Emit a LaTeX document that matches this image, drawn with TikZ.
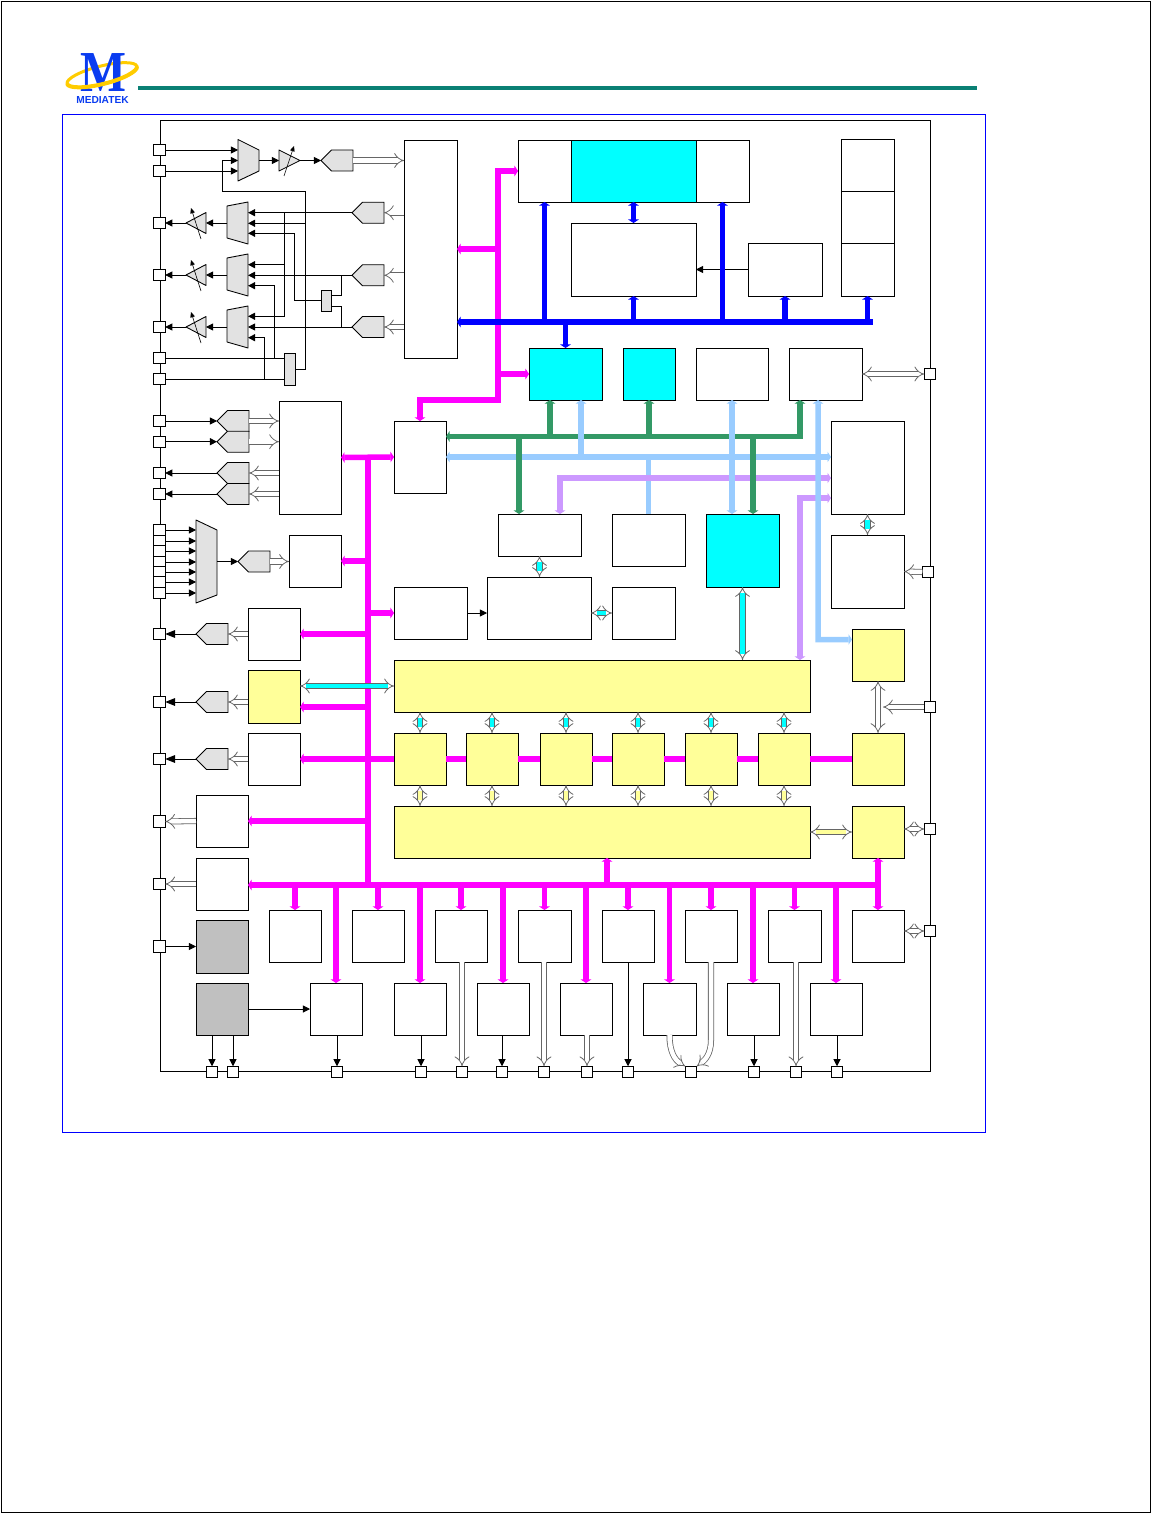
\documentclass[tikz,border=0pt]{standalone}
\usepackage{fontspec}
\setmainfont{Liberation Sans}
\newfontfamily\logoserif{Liberation Serif}
\usepackage{xcolor}
\usetikzlibrary{arrows.meta,shapes.symbols,calc}
\definecolor{busmag}{HTML}{FF00FF}
\definecolor{busblue}{HTML}{0000FF}
\definecolor{busgreen}{HTML}{339966}
\definecolor{buslight}{HTML}{99CCFF}
\definecolor{buspurple}{HTML}{CC99FF}
\definecolor{fillcyan}{HTML}{00FFFF}
\definecolor{fillyellow}{HTML}{FFFF99}
\definecolor{fillgray}{HTML}{C0C0C0}
\definecolor{fillshape}{HTML}{E2E2E2}
\definecolor{ruleteal}{HTML}{0A8074}
\definecolor{logoblue}{HTML}{0A3CF0}
\definecolor{logogold}{HTML}{FFCC00}
\tikzset{
	blk/.style 2 args={draw, line width=.5pt, inner sep=0pt, outer sep=0pt, fill=white, minimum width=#1*0.02cm, minimum height=#2*0.02cm},
	pad/.style={draw, line width=.5pt, fill=white, inner sep=0pt, outer sep=0pt, minimum size=.23cm},
	conv/.style={draw, line width=.5pt, fill=fillshape, inner sep=0pt, outer sep=0pt, shape=signal, signal to=west, signal from=nowhere, signal pointer angle=90, minimum width=.64cm, minimum height=.42cm, anchor=west},
	analog/.style={draw, line width=.5pt, fill=fillshape, line join=round},
	sig/.style={line width=.5pt, >={Triangle[length=4pt,width=4pt]}},
	sigbig/.style={line width=.5pt, >={Triangle[length=5.6pt,width=4.4pt]}},
	tune/.style={line width=.35pt, -{Triangle[length=3pt,width=2.6pt]}},
	hollow/.style={draw=black!60, line width=.45pt, double=#1, double distance=.09cm, >={Implies}},
	hollow/.default=white,
	bus/.style={draw=#1, line width=.11cm, line join=miter, >={Triangle[length=2pt,width=6pt]}}
}
\begin{document}
\begin{tikzpicture}[x=0.02cm, y=-0.02cm]
	\useasboundingbox (0,0) rectangle (1152,1513);
	% Page and frame
	\draw[line width=.5pt] (1,1) rectangle (1150,1512);
	\draw[busblue, line width=.5pt] (62,114.5) rectangle (985,1132);
	\draw[ruleteal, line width=.07cm] (138,88) -- (977,88);
	% Logo
	\draw[logogold, line width=.06cm, rotate around={14:(102,75)}] (102,75) ellipse (36 and 9);
	\node[logoblue, inner sep=0pt, font=\logoserif\bfseries\fontsize{33pt}{33pt}\selectfont] (logoM) at (103,72.5) {\scalebox{.84}[1]{M}};
	\draw[logogold, line width=.08cm, rotate around={14:(102,75)}] (138,75) arc[start angle=0, end angle=180, x radius=36, y radius=9];
	\node[logoblue, inner sep=0pt, font=\bfseries\fontsize{5.8pt}{6pt}\selectfont] (logoT) at (102.5,100) {MEDIATEK};
	% Chip outline
	\draw[line width=.5pt] (160,120) rectangle (930,1071);
	% Left pads
	\node[pad] (pinA) at (159.5,150) {};
	\node[pad] (pinB) at (159.5,171) {};
	\node[pad] (pinC) at (159.5,223) {};
	\node[pad] (pinD) at (159.5,275) {};
	\node[pad] (pinE) at (159.5,327) {};
	\node[pad] (pinF) at (159.5,358) {};
	\node[pad] (pinG) at (159.5,379) {};
	\node[pad] (pinH) at (159.5,421) {};
	\node[pad] (pinI) at (159.5,441.7) {};
	\node[pad] (pinJ) at (159.5,473) {};
	\node[pad] (pinK) at (159.5,494) {};
	\node[pad] (pinM1) at (159.5,530) {};
	\node[pad] (pinM2) at (159.5,541) {};
	\node[pad] (pinM3) at (159.5,551) {};
	\node[pad] (pinM4) at (159.5,562) {};
	\node[pad] (pinM5) at (159.5,572) {};
	\node[pad] (pinM6) at (159.5,582) {};
	\node[pad] (pinM7) at (159.5,593) {};
	\node[pad] (pinN) at (159.5,634) {};
	\node[pad] (pinO) at (159.5,702) {};
	\node[pad] (pinP) at (159.5,759) {};
	\node[pad] (pinQ) at (159.5,821.5) {};
	\node[pad] (pinS) at (159.5,884) {};
	\node[pad] (pinT) at (159.5,946.5) {};
	% Bottom pads
	\node[pad] (padA) at (212,1072) {};
	\node[pad] (padB) at (233,1072) {};
	\node[pad] (padC) at (337,1072) {};
	\node[pad] (padD) at (421,1072) {};
	\node[pad] (padE) at (462,1072) {};
	\node[pad] (padF) at (502,1072) {};
	\node[pad] (padG) at (544,1072) {};
	\node[pad] (padH) at (587,1072) {};
	\node[pad] (padI) at (628,1072) {};
	\node[pad] (padJ) at (691,1072) {};
	\node[pad] (padK) at (754,1072) {};
	\node[pad] (padL) at (796,1072) {};
	\node[pad] (padM) at (837,1072) {};
	% Right pads
	\node[pad] (pinR1) at (930,374) {};
	\node[pad] (pinR2) at (928,572) {};
	\node[pad] (pinR3) at (930,707) {};
	\node[pad] (pinR4) at (930,829) {};
	\node[pad] (pinR5) at (930,931) {};
	% Top blocks
	\node[blk={53}{218}] (adda) at (430.5,249) {};
	\node[blk={53}{62}] (cpuL) at (544.5,171) {};
	\node[blk={125}{62}, fill=fillcyan] (cpuM) at (633.5,171) {};
	\node[blk={53}{62}] (cpuR) at (722.5,171) {};
	\node[blk={125}{73}] (memA) at (633.5,259.5) {};
	\node[blk={74}{53}] (romBox) at (785,269.5) {};
	\node[blk={53}{52}] (stA) at (867.5,165.5) {};
	\node[blk={53}{52}] (stB) at (867.5,217) {};
	\node[blk={53}{53}] (stC) at (867.5,269.5) {};
	\node[blk={73}{52}, fill=fillcyan] (dma) at (565.5,374) {};
	\node[blk={52}{52}, fill=fillcyan] (dmb) at (649,374) {};
	\node[blk={72}{52}] (perA) at (732,374) {};
	\node[blk={73}{52}] (perB) at (825.5,374) {};
	% Middle blocks
	\node[blk={62}{113}] (bigL) at (310,457.5) {};
	\node[blk={52}{72}] (switch) at (420,457) {};
	\node[blk={83}{42}] (extA) at (539.5,535) {};
	\node[blk={73}{52}] (extC) at (648.5,540) {};
	\node[blk={73}{73}, fill=fillcyan] (cyanBig) at (742.5,550.5) {};
	\node[blk={73}{93}] (netBox) at (867.5,467.5) {};
	\node[blk={73}{73}] (extB) at (867.5,571.5) {};
	\node[blk={52}{52}] (blkAdc) at (315,561) {};
	\node[blk={73}{52}] (sideA) at (430.5,613) {};
	\node[blk={104}{62}] (midBox) at (539,608) {};
	\node[blk={63}{52}] (sideB) at (643.5,613) {};
	\node[blk={52}{52}] (outA) at (274,634) {};
	\node[blk={52}{53}, fill=fillyellow] (yelL) at (274,696.5) {};
	\node[blk={52}{52}] (outB) at (274,759) {};
	% Yellow core
	\node[blk={416}{52}, fill=fillyellow] (ramTop) at (602,686) {};
	\node[blk={52}{52}, fill=fillyellow] (ramA) at (420,759) {};
	\node[blk={52}{52}, fill=fillyellow] (ramB) at (492,759) {};
	\node[blk={52}{52}, fill=fillyellow] (ramC) at (566,759) {};
	\node[blk={52}{52}, fill=fillyellow] (ramD) at (638,759) {};
	\node[blk={52}{52}, fill=fillyellow] (ramE) at (711,759) {};
	\node[blk={52}{52}, fill=fillyellow] (ramF) at (784,759) {};
	\node[blk={416}{52}, fill=fillyellow] (ramBot) at (602,832) {};
	\node[blk={52}{52}, fill=fillyellow] (yelRa) at (878,655) {};
	\node[blk={52}{52}, fill=fillyellow] (yelRb) at (878,759) {};
	\node[blk={52}{52}, fill=fillyellow] (yelRc) at (878,832) {};
	% Lower left blocks
	\node[blk={52}{52}] (lowA) at (222,821) {};
	\node[blk={52}{52}] (lowB) at (222,884) {};
	\node[blk={52}{53}, fill=fillgray] (grayA) at (222,946.5) {};
	\node[blk={52}{52}, fill=fillgray] (grayB) at (222,1009) {};
	% Two lower rows
	\node[blk={52}{52}] (rowA1) at (295,936) {};
	\node[blk={52}{52}] (rowA2) at (378,936) {};
	\node[blk={52}{52}] (rowA3) at (461,936) {};
	\node[blk={53}{52}] (rowA4) at (544.5,936) {};
	\node[blk={52}{52}] (rowA5) at (628,936) {};
	\node[blk={52}{52}] (rowA6) at (711,936) {};
	\node[blk={53}{52}] (rowA7) at (794.5,936) {};
	\node[blk={52}{52}] (rowA8) at (878,936) {};
	\node[blk={52}{52}] (rowB1) at (336,1009) {};
	\node[blk={52}{52}] (rowB2) at (420,1009) {};
	\node[blk={52}{52}] (rowB3) at (503,1009) {};
	\node[blk={52}{52}] (rowB4) at (586,1009) {};
	\node[blk={53}{52}] (rowB5) at (669.5,1009) {};
	\node[blk={52}{52}] (rowB6) at (753,1009) {};
	\node[blk={52}{52}] (rowB7) at (836,1009) {};
	% Converters
	\node[conv] (adcA) at (321,160.5) {};
	\node[conv] (dacA) at (352,212.7) {};
	\node[conv] (dacB) at (352,275.3) {};
	\node[conv] (dacC) at (352,327) {};
	\node[conv] (adcD) at (217,421) {};
	\node[conv] (adcE) at (217,441.7) {};
	\node[conv] (dacD) at (217,473) {};
	\node[conv] (dacE) at (217,494) {};
	\node[conv] (adcH) at (238,561.5) {};
	\node[conv] (dacF) at (196,634) {};
	\node[conv] (dacG) at (196,702) {};
	\node[conv] (dacH) at (196,759) {};
	\node[blk={11}{32}, fill=fillshape] (gateL) at (289.5,369) {};
	\node[blk={10}{21}, fill=fillshape] (gateS) at (326.5,300.5) {};
	% Muxes
	\draw[analog] (238,139.5) -- (259,150) -- (259,171) -- (238,181) -- cycle;
	\draw[analog] (227,206) -- (248,202) -- (248,244) -- (227,238) -- cycle;
	\draw[analog] (227,258) -- (248,254) -- (248,296) -- (227,290) -- cycle;
	\draw[analog] (227,310) -- (248,306) -- (248,348) -- (227,342) -- cycle;
	\draw[analog] (196,520) -- (217,530) -- (217,595) -- (196,603) -- cycle;
	% Amplifiers
	\draw[analog] (279,150) -- (300,160.5) -- (279,171) -- cycle;
	\draw[analog] (186,223) -- (206,212.5) -- (206,233.5) -- cycle;
	\draw[analog] (186,275) -- (206,264.5) -- (206,285.5) -- cycle;
	\draw[analog] (186,327) -- (206,316.5) -- (206,337.5) -- cycle;
	\draw[tune] (284,176) -- (294,146);
	\draw[tune] (201,239) -- (191,208);
	\draw[tune] (201,291) -- (191,260);
	\draw[tune] (201,343) -- (191,312);
	% Analog ports
	\coordinate (muxA) at (238,160.5);
	\coordinate (muxAo) at (259,160.5);
	\coordinate (ampA) at (279,160.5);
	\coordinate (ampAo) at (300,160.5);
	\coordinate (muxBa) at (248,212.7);
	\coordinate (muxBb) at (248,223.3);
	\coordinate (muxBc) at (248,233.3);
	\coordinate (muxBo) at (227,223);
	\coordinate (muxCa) at (248,264.7);
	\coordinate (muxCb) at (248,275.3);
	\coordinate (muxCc) at (248,285.7);
	\coordinate (muxCo) at (227,275);
	\coordinate (muxDa) at (248,316.3);
	\coordinate (muxDb) at (248,327);
	\coordinate (muxDc) at (248,337.7);
	\coordinate (muxDo) at (227,327);
	\coordinate (muxE) at (196,561.5);
	\coordinate (muxEo) at (217,561.5);
	\coordinate (ampB) at (206,223);
	\coordinate (ampBo) at (186,223);
	\coordinate (ampC) at (206,275);
	\coordinate (ampCo) at (186,275);
	\coordinate (ampD) at (206,327);
	\coordinate (ampDo) at (186,327);
	\coordinate (ringA) at (305.5,191.5);
	\coordinate (ringB) at (222,191.5);
	\coordinate (tapA) at (284.5,212.7);
	\coordinate (tapB) at (294.6,300.5);
	\coordinate (tapC) at (341.7,275.3);
	\coordinate (tapD) at (341.7,327);
	\coordinate (tapE) at (274.6,358);
	\coordinate (tapF) at (264.3,379);
	\coordinate (gateSa) at (331.5,295);
	\coordinate (gateSb) at (331.5,306);
	% Analog wires
	\draw[sig,->] (pinA.east) -- (pinA.east -| muxA);
	\draw[sig,->] (pinB.east) -- (pinB.east -| muxA);
	\draw[sig,->] (muxAo) -- (ampA);
	\draw[sig,->] (ampAo) -- (adcA.west);
	\draw[sig,->] (gateL.east) -| (ringA) -- (ringB) |- (muxA);
	\draw[sig,->] (ringA |- muxBb) -- (muxBb);
	\draw[sig,->] (dacA.west) -- (muxBa);
	\draw[sig,->] (dacB.west) -- (muxCb);
	\draw[sig,->] (dacC.west) -- (muxDb);
	\draw[sig,->] (tapA) |- (muxDa);
	\draw[sig,->] (tapA |- muxCa) -- (muxCa);
	\draw[sig,->] (gateS.west) -- (tapB) |- (muxBc);
	\draw[sig] (gateSa) -| (tapC);
	\draw[sig] (gateSb) -| (tapD);
	\draw[sig] (pinF.east) -- (gateL.west |- pinF.east);
	\draw[sig] (pinG.east) -- (gateL.west |- pinG.east);
	\draw[sig,->] (tapE) |- (muxCc);
	\draw[sig,->] (tapF) |- (muxDc);
	\draw[sig,->] (muxBo) -- (ampB);
	\draw[sig,->] (muxCo) -- (ampC);
	\draw[sig,->] (muxDo) -- (ampD);
	\draw[sig,->] (ampBo) -- (pinC.east);
	\draw[sig,->] (ampCo) -- (pinD.east);
	\draw[sig,->] (ampDo) -- (pinE.east);
	\draw[sig,->] (pinH.east) -- (adcD.west);
	\draw[sig,->] (pinI.east) -- (adcE.west);
	\draw[sig,->] (dacD.west) -- (pinJ.east);
	\draw[sig,->] (dacE.west) -- (pinK.east);
	\draw[sig,->] (pinM1.east) -- (pinM1.east -| muxE);
	\draw[sig,->] (pinM2.east) -- (pinM2.east -| muxE);
	\draw[sig,->] (pinM3.east) -- (pinM3.east -| muxE);
	\draw[sig,->] (pinM4.east) -- (pinM4.east -| muxE);
	\draw[sig,->] (pinM5.east) -- (pinM5.east -| muxE);
	\draw[sig,->] (pinM6.east) -- (pinM6.east -| muxE);
	\draw[sig,->] (pinM7.east) -- (pinM7.east -| muxE);
	\draw[sig,->] (muxEo) -- (adcH.west);
	\draw[sigbig,->] (dacF.west) -- (pinN.east);
	\draw[sigbig,->] (dacG.west) -- (pinO.east);
	\draw[sigbig,->] (dacH.west) -- (pinP.east);
	% Plain wires
	\draw[sig,->] (romBox.west) -- (memA.east |- romBox.west);
	\draw[sig,->] (sideA.east) -- (midBox.west |- sideA.east);
	\draw[sig,->] (pinT.east) -- (grayA.west |- pinT.east);
	\draw[sig,->] (grayB.east) -- (rowB1.west);
	\draw[sig,->] (padA.north |- grayB.south) -- (padA.north);
	\draw[sig,->] (padB.north |- grayB.south) -- (padB.north);
	\draw[sig,->] (padC.north |- rowB1.south) -- (padC.north);
	\draw[sig,->] (padD.north |- rowB2.south) -- (padD.north);
	\draw[sig,->] (padF.north |- rowB3.south) -- (padF.north);
	\draw[sig,->] (padI.north |- rowA5.south) -- (padI.north);
	\draw[sig,->] (padK.north |- rowB6.south) -- (padK.north);
	\draw[sig,->] (padM.north |- rowB7.south) -- (padM.north);
	% Magenta buses
	\coordinate (magTop) at (368,457);
	\coordinate (magBot) at (368,885);
	\coordinate (magEnd) at (880,885);
	\coordinate (magUp) at (498,400);
	\coordinate (magCore) at (607,885);
	\draw[bus=busmag] (magTop) -- (magBot);
	\draw[bus=busmag,<->] (bigL.east) -- (switch.west);
	\draw[bus=busmag,<->] (switch.north) |- (magUp) |- (cpuL.west);
	\draw[bus=busmag,->] (magUp |- adda.east) -- (adda.east);
	\draw[bus=busmag,->] (magUp |- dma.west) -- (dma.west);
	\draw[bus=busmag,->] (magTop |- blkAdc.east) -- (blkAdc.east);
	\draw[bus=busmag,->] (magTop |- sideA.west) -- (sideA.west);
	\draw[bus=busmag,->] (magTop |- outA.east) -- (outA.east);
	\draw[bus=busmag,->] (magTop |- 0,707) -- (yelL.east |- 0,707);
	\draw[bus=busmag,<-] (outB.east) -- (ramA.west);
	\draw[bus=busmag] (ramA.east) -- (ramB.west);
	\draw[bus=busmag] (ramB.east) -- (ramC.west);
	\draw[bus=busmag] (ramC.east) -- (ramD.west);
	\draw[bus=busmag] (ramD.east) -- (ramE.west);
	\draw[bus=busmag] (ramE.east) -- (ramF.west);
	\draw[bus=busmag] (ramF.east) -- (yelRb.west);
	\draw[bus=busmag,->] (magTop |- lowA.east) -- (lowA.east);
	\draw[bus=busmag,<-] (lowB.east |- magEnd) -- (magEnd);
	\draw[bus=busmag,->] (rowA1.north |- magEnd) -- (rowA1.north);
	\draw[bus=busmag,->] (rowA2.north |- magEnd) -- (rowA2.north);
	\draw[bus=busmag,->] (rowA3.north |- magEnd) -- (rowA3.north);
	\draw[bus=busmag,->] (rowA4.north |- magEnd) -- (rowA4.north);
	\draw[bus=busmag,->] (rowA5.north |- magEnd) -- (rowA5.north);
	\draw[bus=busmag,->] (rowA6.north |- magEnd) -- (rowA6.north);
	\draw[bus=busmag,->] (rowA7.north |- magEnd) -- (rowA7.north);
	\draw[bus=busmag,<->] (yelRc.south) -- (rowA8.north);
	\draw[bus=busmag,->] (rowB1.north |- magEnd) -- (rowB1.north);
	\draw[bus=busmag,->] (rowB2.north |- magEnd) -- (rowB2.north);
	\draw[bus=busmag,->] (rowB3.north |- magEnd) -- (rowB3.north);
	\draw[bus=busmag,->] (rowB4.north |- magEnd) -- (rowB4.north);
	\draw[bus=busmag,->] (rowB5.north |- magEnd) -- (rowB5.north);
	\draw[bus=busmag,->] (rowB6.north |- magEnd) -- (rowB6.north);
	\draw[bus=busmag,->] (rowB7.north |- magEnd) -- (rowB7.north);
	\draw[bus=busmag,->] (magCore) -- (magCore |- ramBot.south);
	% Blue bus
	\coordinate (bluEnd) at (873,322);
	\draw[bus=busblue,<-] (adda.east |- bluEnd) -- (bluEnd);
	\draw[bus=busblue,->] (cpuL.south |- bluEnd) -- (cpuL.south);
	\draw[bus=busblue,->] (memA.south |- bluEnd) -- (memA.south);
	\draw[bus=busblue,->] (cpuR.south |- bluEnd) -- (cpuR.south);
	\draw[bus=busblue,->] (romBox.south |- bluEnd) -- (romBox.south);
	\draw[bus=busblue,->] (stC.south |- bluEnd) -- (stC.south);
	\draw[bus=busblue,->] (dma.north |- bluEnd) -- (dma.north);
	\draw[bus=busblue,<->] (cpuM.south) -- (memA.north);
	% Light blue bus
	\draw[bus=buslight,<->] (switch.east) -- (netBox.west |- switch.east);
	\draw[bus=buslight] (switch.east -| extC.north) -- (extC.north);
	% Purple buses
	\coordinate (purA) at (560,478);
	\coordinate (purB) at (800,498);
	\draw[bus=buspurple,<->] (extA.north -| purA) -- (purA) -- (netBox.west |- purA);
	\draw[bus=buspurple,<->] (ramTop.north -| purB) -- (purB) -- (netBox.west |- purB);
	% Green bus
	\coordinate (grnEnd) at (803,436.5);
	\draw[bus=busgreen,<-] (switch.east |- grnEnd) -- (grnEnd);
	\draw[bus=busgreen,->] ([xshift=-.31cm]dma.south |- grnEnd) -- ([xshift=-.31cm]dma.south);
	\draw[bus=busgreen,->] (dmb.south |- grnEnd) -- (dmb.south);
	\draw[bus=busgreen,->] ([xshift=-.51cm]perB.south |- grnEnd) -- ([xshift=-.51cm]perB.south);
	\draw[bus=busgreen,->] ([xshift=-.41cm]extA.north |- grnEnd) -- ([xshift=-.41cm]extA.north);
	\draw[bus=busgreen,->] ([xshift=.21cm]cyanBig.north |- grnEnd) -- ([xshift=.21cm]cyanBig.north);
	% Light blue drops
	\coordinate (lblTurn) at (818,639.5);
	\draw[bus=buslight,->] (switch.east -| dma.south) ++(.31cm,0) -- ([xshift=.31cm]dma.south);
	\draw[bus=buslight,<->] (cyanBig.north -| perA.south) -- (perA.south);
	\draw[bus=buslight,<->] ([xshift=-.15cm]perB.south) -- (lblTurn) -- (yelRa.west |- lblTurn);
	% Cyan links
	\draw[hollow=fillcyan,<->] (extA.south) -- (extA.south |- midBox.north);
	\draw[hollow=fillcyan,<->] (midBox.east |- sideB.west) -- (sideB.west);
	\draw[hollow=fillcyan,<->] (cyanBig.south) -- (cyanBig.south |- ramTop.north);
	\draw[hollow=fillcyan,<->] (netBox.south) -- (extB.north);
	\draw[hollow=fillcyan,<->] (yelL.east |- ramTop.west) -- (ramTop.west);
	\draw[hollow=fillcyan,<->] (ramA.north) -- (ramA.north |- ramTop.south);
	\draw[hollow=fillcyan,<->] (ramB.north) -- (ramB.north |- ramTop.south);
	\draw[hollow=fillcyan,<->] (ramC.north) -- (ramC.north |- ramTop.south);
	\draw[hollow=fillcyan,<->] (ramD.north) -- (ramD.north |- ramTop.south);
	\draw[hollow=fillcyan,<->] (ramE.north) -- (ramE.north |- ramTop.south);
	\draw[hollow=fillcyan,<->] (ramF.north) -- (ramF.north |- ramTop.south);
	% Yellow links
	\draw[hollow=fillyellow,<->] (ramA.south) -- (ramA.south |- ramBot.north);
	\draw[hollow=fillyellow,<->] (ramB.south) -- (ramB.south |- ramBot.north);
	\draw[hollow=fillyellow,<->] (ramC.south) -- (ramC.south |- ramBot.north);
	\draw[hollow=fillyellow,<->] (ramD.south) -- (ramD.south |- ramBot.north);
	\draw[hollow=fillyellow,<->] (ramE.south) -- (ramE.south |- ramBot.north);
	\draw[hollow=fillyellow,<->] (ramF.south) -- (ramF.south |- ramBot.north);
	\draw[hollow=fillyellow,<->] (ramBot.east) -- (yelRc.west);
	% Hollow links
	\coordinate (hubTap) at (883,707);
	\draw[hollow,->] (adcA.east) -- (adda.west |- adcA.east);
	\draw[hollow,<-] (dacA.east) -- (adda.west |- dacA.east);
	\draw[hollow,<-] (dacB.east) -- (adda.west |- dacB.east);
	\draw[hollow,<-] (dacC.east) -- (adda.west |- dacC.east);
	\draw[hollow,->] (adcD.east) -- (bigL.west |- adcD.east);
	\draw[hollow,->] (adcE.east) -- (bigL.west |- adcE.east);
	\draw[hollow,<-] (dacD.east) -- (bigL.west |- dacD.east);
	\draw[hollow,<-] (dacE.east) -- (bigL.west |- dacE.east);
	\draw[hollow,->] (adcH.east) -- (blkAdc.west |- adcH.east);
	\draw[hollow,<-] (dacF.east) -- (outA.west |- dacF.east);
	\draw[hollow,<-] (dacG.east) -- (yelL.west |- dacG.east);
	\draw[hollow,<-] (dacH.east) -- (outB.west |- dacH.east);
	\draw[hollow,->] (lowA.west) -- (pinQ.east);
	\draw[hollow,->] (lowB.west) -- (pinS.east);
	\draw[hollow,<->] (perB.east) -- (pinR1.west);
	\draw[hollow,<-] (extB.east) -- (pinR2.west);
	\draw[hollow,<-] (hubTap) -- (pinR3.west);
	\draw[hollow,<->] (yelRa.south) -- (yelRb.north);
	\draw[hollow,<->] (yelRc.east |- pinR4.west) -- (pinR4.west);
	\draw[hollow,<->] (rowA8.east |- pinR5.west) -- (pinR5.west);
	\draw[hollow,->] (padE.north |- rowA3.south) -- (padE.north);
	\draw[hollow,->] (padG.north |- rowA4.south) -- (padG.north);
	\draw[hollow,->] (padH.north |- rowB4.south) -- (padH.north);
	\draw[hollow,->] (padL.north |- rowA7.south) -- (padL.north);
	\draw[hollow,->] (rowB5.south) .. controls (669.5,1052) and (675,1060) .. (padJ.north west);
	\draw[hollow,->] (rowA6.south) -- (711,1040) .. controls (711,1054) and (705,1060) .. (padJ.north east);
\end{tikzpicture}
\end{document}
